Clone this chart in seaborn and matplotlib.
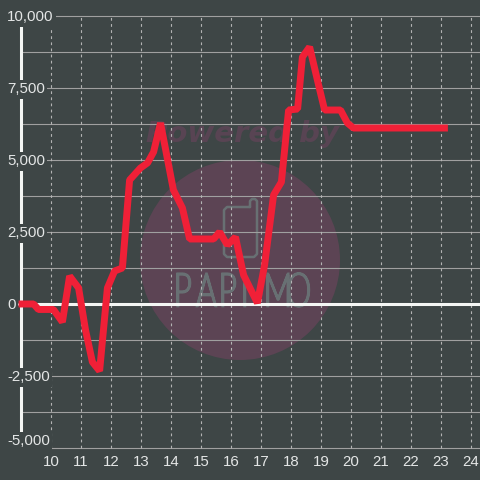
import matplotlib
matplotlib.use("Agg")
import matplotlib.pyplot as plt
import pandas as pd
import seaborn as sns
from matplotlib.font_manager import FontProperties
from matplotlib.patches import Circle, PathPatch
from matplotlib.textpath import TextPath
from matplotlib.transforms import Affine2D

hours = [8.92, 9.42, 9.58, 10.08, 10.38, 10.62, 10.92, 11.15, 11.38, 11.62, 11.88, 12.12,
         12.38, 12.62, 12.98, 13.22, 13.42, 13.65, 14.08, 14.38, 14.62, 15.42, 15.62, 15.88,
         16.15, 16.42, 16.88, 17.12, 17.42, 17.68, 17.92, 18.22, 18.38, 18.62, 18.92, 19.12,
         19.65, 19.88, 20.08, 23.23]
values = [0, 0, -190, -190, -625, 970, 555, -900, -2015, -2325, 555, 1145,
          1250, 4305, 4720, 4900, 5280, 6285, 3960, 3335, 2257, 2257, 2500, 2050,
          2325, 1005, 35, 1355, 3785, 4235, 6735, 6770, 8575, 8925, 7600, 6735,
          6735, 6285, 6110, 6110]
x_ticks = list(range(10, 25))
y_ticks = [-5000, -2500, 0, 2500, 5000, 7500, 10000]
y_labels = ["-5,000", "-2,500", "0", "2,500", "5,000", "7,500", "10,000"]
y_grid = [-5000, -3750, -2500, -1250, 1250, 2500, 3750, 5000, 6250, 7500, 8750, 10000]

BG = "#3e4646"
RED = "#f02037"
TEXT = "#e4e6e6"
MARK = "#687073"

sns.set_style("dark")
plt.rcParams["font.family"] = ["Liberation Sans", "DejaVu Sans"]

fig = plt.figure(figsize=(4.8, 4.8), dpi=100, facecolor=BG)

# watermark sits under the chart, in pixel coordinates
wm = fig.add_axes([0, 0, 1, 1], zorder=0)
wm.set_xlim(0, 480)
wm.set_ylim(480, 0)
wm.axis("off")
wm.add_patch(Circle((240, 260), 100, color="#5c4454", lw=0))
wm.text(243, 134, "Powered by", color="#584453", fontsize=21, fontweight="bold",
        fontstyle="italic", ha="center", va="center", family="DejaVu Sans")
icon_x = [250, 250, 252, 255, 257, 257, 254, 227, 224, 224, 227, 250]
icon_y = [207, 201, 199, 199, 201, 254, 257, 257, 254, 210, 207, 207]
wm.plot(icon_x, icon_y, color=MARK, lw=1.8)
fp = FontProperties(family="Lato", weight="light")
for i, letter in enumerate("PAPiMO"):
    path = TextPath((0, 0), letter, size=46, prop=fp)
    tr = Affine2D().scale(0.68, -1).translate(174 + i * 22.5, 306)
    wm.add_patch(PathPatch(path, transform=tr + wm.transData, fc=MARK, ec=MARK, lw=1.9))

ax = fig.add_axes([0, 0, 1, 1], zorder=1)
ax.patch.set_visible(False)
ax.set_xlim(8.30, 24.30)
ax.set_ylim(-6111, 10555)
for s in ax.spines.values():
    s.set_visible(False)

ax.hlines(y_grid, 9, 24.30, color="#a0a0a0", lw=0.8, zorder=0.2)
ax.vlines(x_ticks, -5000, 10000, color="#b4b4b4", lw=0.8, linestyles=(0, (2.5, 3)), zorder=0.2)
ax.axhline(0, xmin=0.04, color="#f4f6f4", lw=2.2, zorder=0.3)
ax.vlines(9, -5000, 9720, color="#f4f6f4", lw=2.2, zorder=0.3)

df = pd.DataFrame({"hour": hours, "value": values})
sns.lineplot(data=df, x="hour", y="value", color=RED, lw=5, ax=ax, zorder=3, errorbar=None)
ax.lines[-1].set_solid_joinstyle("bevel")
ax.lines[-1].set_solid_capstyle("butt")
ax.set_xlabel("")
ax.set_ylabel("")

ax.set_axisbelow(True)
ax.set_xticks(x_ticks)
ax.set_yticks(y_ticks)
ax.set_yticklabels(y_labels)
ax.tick_params(axis="x", length=0, pad=-18, labelsize=10.8, labelcolor=TEXT)
ax.tick_params(axis="y", length=0, pad=-5, labelsize=10.8, labelcolor=TEXT)
for lab in ax.get_yticklabels():
    lab.set_ha("left")
    lab.set_bbox(dict(facecolor=BG, edgecolor="none", pad=1.5))
ax.get_yticklabels()[0].set_va("bottom")

fig.savefig("out.png", dpi=100, facecolor=BG)
plt.close(fig)
